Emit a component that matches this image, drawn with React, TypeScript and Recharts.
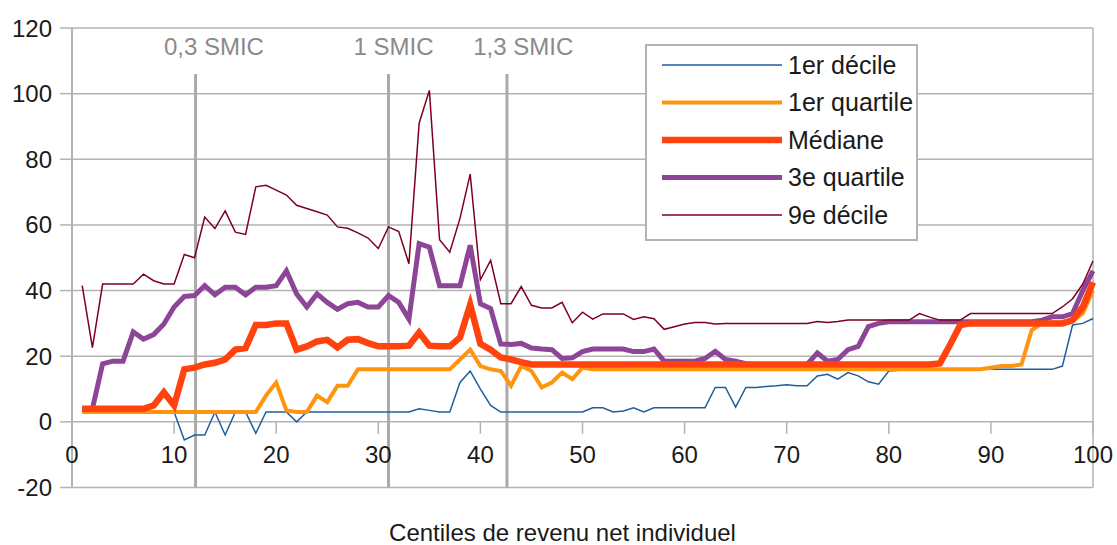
import {
  LineChart,
  Line,
  XAxis,
  YAxis,
  CartesianGrid,
  ReferenceLine,
  ReferenceDot,
  Legend,
} from "recharts";

// centiles 1..100
const centiles = Array.from({ length: 100 }, (_, i) => i + 1);

const firstDecile = [
  3, 3, 3, 3, 3, 3, 3, 3, 3, 3,
  -5.5, -4, -4, 3, -4, 3, 3, -3.5, 3, 3,
  3, 0, 3, 3, 3, 3, 3, 3, 3, 3,
  3, 3, 3, 4, 3.5, 3, 3, 12, 15.5, 10,
  5, 3, 3, 3, 3, 3, 3, 3, 3, 3,
  4.3, 4.3, 3, 3.3, 4.3, 3, 4.3, 4.3, 4.3, 4.3,
  4.3, 4.3, 10.5, 10.5, 4.5, 10.5, 10.5, 10.8, 11, 11.3,
  11, 11, 14, 14.5, 13, 15, 14, 12.2, 11.5, 15.5,
  15.7, 15.7, 15.7, 15.7, 15.7, 15.7, 15.7, 16, 16, 16,
  16, 16, 16, 16, 16, 16, 17, 29.5, 30, 31.5,
];

const firstQuartile = [
  3, 3, 3, 3, 3, 3, 3, 3, 3, 3,
  3, 3, 3, 3, 3, 3, 3, 3, 8, 12,
  3.5, 3, 3, 8, 6, 11, 11, 16, 16, 16,
  16, 16, 16, 16, 16, 16, 16, 19, 22, 17,
  16, 15.5, 11, 17, 15.5, 10.5, 12, 15, 13, 16.5,
  16, 16, 16, 16, 16, 16, 16, 16, 16, 16,
  16, 16, 16, 16, 16, 16, 16, 16, 16, 16,
  16, 16, 16, 16, 16, 16, 16, 16, 16, 16,
  16, 16, 16, 16, 16, 16, 16, 16, 16, 16.5,
  17, 17, 17.5, 28, 30, 30.3, 30.3, 30.8, 33, 40,
];

const median = [
  4, 4, 4, 4, 4, 4, 4, 5, 9, 5,
  16, 16.5, 17.5, 18, 19, 22, 22.5, 29.5, 29.5, 30,
  30, 22, 23, 24.5, 25, 22.7, 25, 25.2, 24, 23,
  23, 23, 23.2, 27.2, 23.2, 23, 23, 25.7, 35.7, 23.8,
  22, 19.6, 19, 18.2, 17.5, 17.5, 17.5, 17.5, 17.5, 17.5,
  17.5, 17.5, 17.5, 17.5, 17.5, 17.5, 17.5, 17.5, 17.5, 17.5,
  17.5, 17.5, 17.5, 17.5, 17.5, 17.5, 17.5, 17.5, 17.5, 17.5,
  17.5, 17.5, 17.5, 17.5, 17.5, 17.5, 17.5, 17.5, 17.5, 17.5,
  17.5, 17.5, 17.5, 17.5, 17.8, 23.5, 29.5, 30, 30, 30,
  30, 30, 30, 30, 30, 30, 30, 31, 35, 42.5,
];

const thirdQuartile = [
  4, 4, 17.7, 18.5, 18.5, 27.4, 25.2, 26.6, 29.8, 35,
  38.2, 38.5, 41.5, 38.7, 41, 41, 38.7, 41, 41, 41.5,
  46, 39, 35, 39, 36.4, 34.3, 36, 36.4, 35, 35,
  38.5, 36.4, 31.3, 54.3, 53.2, 41.5, 41.5, 41.5, 53.8, 36,
  34.5, 23.7, 23.6, 23.9, 22.5, 22.2, 22, 19.3, 19.5, 21.4,
  22.2, 22.2, 22.2, 22.2, 21.4, 21.4, 22.2, 18.5, 18.5, 18.5,
  18.5, 19.3, 21.5, 19, 18.5, 17.7, 17.5, 17.5, 17.5, 17.5,
  17.5, 17.5, 21, 18.5, 19, 22, 23, 29, 30, 30.5,
  30.5, 30.5, 30.5, 30.5, 30.5, 30.5, 30.5, 30.5, 30.5, 30.5,
  30.5, 30.5, 30.5, 30.5, 31, 32, 32, 33, 40, 46,
];

const ninthDecile = [
  41.5, 22.6, 42, 42, 42, 42, 45, 43, 42, 42,
  51, 50, 62.4, 58.9, 64.3, 57.8, 57.1, 71.6, 72.1, 70.6,
  69.1, 66, 65, 64, 63, 59.4, 59, 57.6, 56, 52.8,
  59.4, 58, 48.2, 91, 101, 55.5, 51.7, 62, 75.5, 43.3,
  49.2, 36, 36, 41.2, 35.5, 34.7, 34.7, 36.4, 30.2, 33.4,
  31.3, 32.9, 32.9, 32.9, 31.2, 32, 31.4, 28.2, 29, 29.8,
  30.3, 30.3, 29.8, 30, 30, 30, 30, 30, 30, 30,
  30, 30, 30.6, 30.3, 30.6, 31, 31, 31, 31, 31,
  31, 31, 33, 31.9, 31, 31, 31, 33, 33, 33,
  33, 33, 33, 33, 33, 33, 35, 37.5, 42, 49,
];

const seriesKeys = ["d1", "q1", "med", "q3", "d9"];
const seriesNames = ["1er décile", "1er quartile", "Médiane", "3e quartile", "9e décile"];
const seriesColors = ["#1f5e9e", "#ff950e", "#ff420e", "#8d4697", "#7e0021"];
const seriesWidths = [1.5, 4, 6.5, 5, 1.5];
// drawing order: médiane above 3e quartile
const drawOrder = [0, 1, 3, 2, 4];

const xTicks = [0, 10, 20, 30, 40, 50, 60, 70, 80, 90, 100];
const yTicks = [-20, 0, 20, 40, 60, 80, 100, 120];

const smicLabels = ["0,3 SMIC", "1 SMIC", "1,3 SMIC"];
const smicX = [12.1, 31, 42.6];
const smicLabelX = [13.9, 31.5, 44.2];

const axisTitle = "Centiles de revenu net individuel";

const data = centiles.map((c, i) => ({
  centile: c,
  d1: firstDecile[i],
  q1: firstQuartile[i],
  med: median[i],
  q3: thirdQuartile[i],
  d9: ninthDecile[i],
}));

const FONT = "'Liberation Sans', Arial, sans-serif";
const GRID = "#b3b3b3";
const W = 1117;
const H = 545;
const TOP = 28;
const X_AXIS_H = 57.5;
const plotH = H - TOP - X_AXIS_H;
const zeroFromBottom = (20 / 140) * plotH;

const XTick = (props: any) => {
  const { x, y, payload } = props;
  const zeroY = y - zeroFromBottom;
  return (
    <g>
      <line x1={x} x2={x} y1={zeroY} y2={zeroY + 12} stroke={GRID} strokeWidth={1.5} />
      <text
        x={x}
        y={y - 33}
        dy="0.35em"
        textAnchor="middle"
        fill="#1a1a1a"
        fontSize={24}
        fontFamily={FONT}
      >
        {payload.value}
      </text>
    </g>
  );
};

const LegendBox = () => (
  <svg width={273} height={197}>
    <rect x={1} y={1} width={271} height={195} fill="#fff" stroke={GRID} strokeWidth={2} />
    {seriesNames.map((name, i) => {
      const cy = 21 + i * 37.5;
      return (
        <g key={name}>
          <line
            x1={17}
            x2={137}
            y1={cy}
            y2={cy}
            stroke={seriesColors[i]}
            strokeWidth={seriesWidths[i]}
          />
          <text
            x={143}
            y={cy}
            dy="0.35em"
            fill="#1a1a1a"
            fontSize={25}
            fontFamily={FONT}
          >
            {name}
          </text>
        </g>
      );
    })}
  </svg>
);

export default function App() {
  return (
    <div style={{ position: "absolute", left: 0, top: 0, width: W, height: H, background: "#fff" }}>
      <LineChart
        width={W}
        height={H}
        data={data}
        margin={{ top: TOP, right: 24, bottom: 0, left: 0 }}
      >
        <CartesianGrid vertical={false} stroke={GRID} strokeWidth={1.5} />
        <XAxis
          dataKey="centile"
          type="number"
          domain={[0, 100]}
          ticks={xTicks}
          interval={0}
          height={X_AXIS_H}
          axisLine={false}
          tickLine={false}
          tickSize={0}
          tickMargin={0}
          tick={<XTick />}
          label={{
            value: axisTitle,
            position: "insideBottom",
            offset: 4,
            dx: -20,
            fill: "#1a1a1a",
            fontSize: 24,
            fontFamily: FONT,
          }}
        />
        <YAxis
          type="number"
          domain={[-20, 120]}
          ticks={yTicks}
          interval={0}
          width={72}
          tickSize={12}
          tickMargin={8}
          axisLine={{ stroke: GRID, strokeWidth: 2 }}
          tickLine={{ stroke: GRID, strokeWidth: 1.5 }}
          tick={{ fill: "#1a1a1a", fontSize: 24, fontFamily: FONT }}
        />
        <ReferenceLine x={100} stroke={GRID} strokeWidth={1.5} />
        {smicX.map((sx, i) => (
          <ReferenceLine
            key={smicLabels[i]}
            segment={[
              { x: sx, y: -20 },
              { x: sx, y: 106 },
            ]}
            stroke="#aaaaaa"
            strokeWidth={3}
          />
        ))}
        {smicLabelX.map((lx, i) => (
          <ReferenceDot
            key={"lbl" + i}
            x={lx}
            y={114.4}
            r={0}
            fill="none"
            stroke="none"
            label={{
              value: smicLabels[i],
              position: "center",
              fill: "#8a8a8a",
              fontSize: 24,
              fontFamily: FONT,
            }}
          />
        ))}
        {drawOrder.map((i) => (
          <Line
            key={seriesKeys[i]}
            type="linear"
            dataKey={seriesKeys[i]}
            name={seriesNames[i]}
            stroke={seriesColors[i]}
            strokeWidth={seriesWidths[i]}
            dot={false}
            activeDot={false}
            isAnimationActive={false}
          />
        ))}
        <Legend
          layout="vertical"
          align="center"
          verticalAlign="middle"
          content={<LegendBox />}
          wrapperStyle={{ left: 645, top: 44, width: 273, height: 197 }}
        />
      </LineChart>
    </div>
  );
}
